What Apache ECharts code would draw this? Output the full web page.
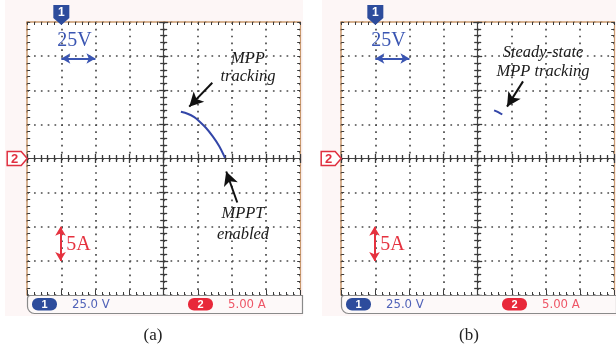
<!DOCTYPE html>
<html><head><meta charset="utf-8">
<script src="https://cdn.jsdelivr.net/npm/echarts@6/dist/echarts.min.js"></script>
<style>html,body{margin:0;padding:0;background:#fff}#c{width:616px;height:354px}</style>
</head><body><div id="c"></div>
<script>
// ---- data (Volts on X, Amps on Y) ----
var xTicks = [-25, 0, 25, 50, 75, 100, 125, 150, 175];
var yTicks = [-20, -15, -10, -5, 0, 5, 10, 15, 20];
var curveA_V = [87.6, 92.5, 97.4, 101.0, 105.9, 110.8, 115.7, 119.9];
var curveA_I = [6.84, 6.55, 6.05, 5.47, 4.50, 3.27, 1.80, 0.10];
var curveB_V = [87.0, 90.0, 93.0];
var curveB_I = [7.05, 6.80, 6.45];
var panelCaptions = ['(a)', '(b)'];
var scaleV = '25.0 V', scaleI = '5.00 A';

var chart = echarts.init(document.getElementById('c'), null, {renderer: 'canvas'});
var G = 273 / 8;
var grids = [{left: 27.2, top: 22, width: 273, height: 273}, {left: 341.2, top: 22, width: 273, height: 273}];
var tan = '#c9996e', tickC = '#3a3a3a';
var xMin = xTicks[0], xMax = xTicks[xTicks.length - 1], yMin = yTicks[0], yMax = yTicks[yTicks.length - 1];
var dot = {color: '#4a4a4a', width: 1.7, type: [1.7, G / 5 - 1.7]};

var xAxes = [], yAxes = [];
grids.forEach(function (g, gi) {
  var base = {gridIndex: gi, type: 'value', min: xMin, max: xMax, interval: 25, axisLabel: {show: false}, splitLine: {show: false}};
  xAxes.push(Object.assign({}, base, {position: 'bottom', axisLine: {show: false, onZero: false},
    axisTick: {inside: true, length: 5, lineStyle: {color: tickC}}, minorTick: {show: true, splitNumber: 5, length: 3, lineStyle: {color: tickC}},
    splitLine: {show: true, lineStyle: dot}}));
  xAxes.push(Object.assign({}, base, {position: 'top', axisLine: {show: true, onZero: false, lineStyle: {color: tan, width: 1.5}},
    axisTick: {inside: true, length: 3, lineStyle: {color: tickC}}, minorTick: {show: true, splitNumber: 5, length: 3, lineStyle: {color: tickC}}}));
  [true, false].forEach(function (ins) {
    xAxes.push(Object.assign({}, base, {position: 'bottom', offset: -g.height / 2, axisLine: {show: ins, onZero: false, lineStyle: {color: '#444', width: 1.2}},
      axisTick: {inside: ins, length: 4.5, lineStyle: {color: tickC, width: 1.3}}, minorTick: {show: true, splitNumber: 5, length: 3.5, lineStyle: {color: tickC, width: 1.3}}}));
  });
  var ybase = {gridIndex: gi, type: 'value', min: yMin, max: yMax, interval: 5, axisLabel: {show: false}, splitLine: {show: false}};
  yAxes.push(Object.assign({}, ybase, {position: 'left', axisLine: {show: true, onZero: false, lineStyle: {color: tan, width: 1.5}},
    axisTick: {inside: true, length: 3, lineStyle: {color: tickC}}, minorTick: {show: true, splitNumber: 5, length: 3, lineStyle: {color: tickC}},
    splitLine: {show: true, lineStyle: dot}}));
  yAxes.push(Object.assign({}, ybase, {position: 'right', axisLine: {show: true, onZero: false, lineStyle: {color: tan, width: 1.2}},
    axisTick: {inside: true, length: 3, lineStyle: {color: tickC}}, minorTick: {show: true, splitNumber: 5, length: 3, lineStyle: {color: tickC}}}));
  [true, false].forEach(function (ins) {
    yAxes.push(Object.assign({}, ybase, {position: 'left', offset: -g.width / 2, axisLine: {show: ins, onZero: false, lineStyle: {color: '#444', width: 1.2}},
      axisTick: {inside: ins, length: 4.5, lineStyle: {color: tickC, width: 1.3}}, minorTick: {show: true, splitNumber: 5, length: 3.5, lineStyle: {color: tickC, width: 1.3}}}));
  });
});

function zip(a, b) { return a.map(function (v, i) { return [v, b[i]]; }); }
function arrow(from, to, color) {
  return [{coord: from, symbol: 'none', lineStyle: {color: color}}, {coord: to, symbol: 'arrow', symbolSize: [11, 14]}];
}
function dbl(from, to, color) {
  return [{coord: from, symbol: 'arrow', symbolSize: [8, 9], lineStyle: {color: color, width: 2}}, {coord: to, symbol: 'arrow', symbolSize: [8, 9]}];
}
function ml(data, color) {
  return {silent: true, animation: false, label: {show: false}, lineStyle: {color: color, width: 2, type: 'solid'}, data: data};
}
var blue = '#3a55b2', red = '#e5323f', curveC = '#3346a8';

var series = [];
grids.forEach(function (g, gi) {
  series.push({type: 'line', xAxisIndex: gi * 4, yAxisIndex: gi * 4, data: [], markLine: ml([dbl([0, 14.65], [25, 14.65], blue)], blue)});
  series.push({type: 'line', xAxisIndex: gi * 4, yAxisIndex: gi * 4, data: [], markLine: ml([dbl([-0.6, -10.0], [-0.6, -15.0], red)], red)});
});
series.push({type: 'line', xAxisIndex: 0, yAxisIndex: 0, data: zip(curveA_V, curveA_I), smooth: 0.3, showSymbol: false,
  lineStyle: {color: curveC, width: 2}, z: 5,
  markLine: ml([arrow([110.6, 11.1], [93.7, 7.6], '#111'), arrow([128.9, -6.45], [120.8, -1.9], '#111')], '#111')});
series.push({type: 'line', xAxisIndex: 4, yAxisIndex: 4, data: zip(curveB_V, curveB_I), smooth: 0.3, showSymbol: false,
  lineStyle: {color: curveC, width: 2}, z: 5,
  markLine: ml([arrow([108.2, 11.3], [96.5, 7.6], '#111')], '#111')});

var graphics = [];
var serif = '"Liberation Serif", "DejaVu Serif", serif';
var narrow = '"Liberation Sans Narrow", "DejaVu Sans Condensed", "Liberation Sans", sans-serif';
[[5, 0, 298, 316], [322, 0, 294, 316]].forEach(function (r) {
  graphics.push({type: 'rect', z: -100, shape: {x: r[0], y: r[1], width: r[2], height: r[3]}, style: {fill: '#fdf6f6'}});
});
grids.forEach(function (g, gi) {
  var dx = g.left - 27.2;
  var x1 = g.left + G; // channel 1 ground
  graphics.push({type: 'rect', z: -50, shape: {x: g.left, y: g.top, width: g.width, height: g.height}, style: {fill: '#ffffff'}});
  graphics.push({type: 'polygon', z: 50, shape: {points: [[x1 - 8, 5], [x1 + 8, 5], [x1 + 8, 18], [x1, 25], [x1 - 8, 18]]}, style: {fill: '#2d4c9c'}});
  graphics.push({type: 'text', z: 51, x: x1, y: 12.5, style: {text: '1', fill: '#fff', font: 'bold 12px "Liberation Sans", sans-serif', align: 'center', verticalAlign: 'middle'}});
  var mx = g.left - 20, my = g.top + g.height / 2;
  graphics.push({type: 'polygon', z: 50, shape: {points: [[mx, my - 7], [mx + 14, my - 7], [mx + 20, my], [mx + 14, my + 7], [mx, my + 7]]}, style: {fill: '#fff', stroke: '#e03040', lineWidth: 1.5}});
  graphics.push({type: 'text', z: 51, x: mx + 7.5, y: my + 0.5, style: {text: '2', fill: '#e03040', font: 'bold 13px "Liberation Sans", sans-serif', align: 'center', verticalAlign: 'middle'}});
  graphics.push({type: 'text', z: 20, x: x1 - 4, y: 41, style: {text: '25V', fill: blue, font: '20px ' + serif, align: 'left', verticalAlign: 'middle'}});
  graphics.push({type: 'text', z: 20, x: x1 + 5, y: 245, style: {text: '5A', fill: red, font: '20px ' + serif, align: 'left', verticalAlign: 'middle'}});
  graphics.push({type: 'rect', z: 10, shape: {x: 27.5 + dx, y: 295.5, width: 275, height: 18, r: [3, 0, 0, 7]}, style: {fill: '#fdf9f9', stroke: '#8a8a8a', lineWidth: 1.2}});
  graphics.push({type: 'rect', z: 11, shape: {x: 32 + dx, y: 298, width: 25, height: 12.5, r: 6}, style: {fill: '#2d4c9c'}});
  graphics.push({type: 'text', z: 12, x: 44.5 + dx, y: 304.5, style: {text: '1', fill: '#fff', font: 'bold 11px "Liberation Sans", sans-serif', align: 'center', verticalAlign: 'middle'}});
  graphics.push({type: 'text', z: 12, x: 72 + dx, y: 305, style: {text: scaleV, fill: '#5062b8', font: '13px ' + narrow, align: 'left', verticalAlign: 'middle'}});
  graphics.push({type: 'rect', z: 11, shape: {x: 188 + dx, y: 298, width: 25, height: 12.5, r: 6}, style: {fill: '#e8283a'}});
  graphics.push({type: 'text', z: 12, x: 200.5 + dx, y: 304.5, style: {text: '2', fill: '#fff', font: 'bold 11px "Liberation Sans", sans-serif', align: 'center', verticalAlign: 'middle'}});
  graphics.push({type: 'text', z: 12, x: 228 + dx, y: 305, style: {text: scaleI, fill: '#ee5566', font: '13px ' + narrow, align: 'left', verticalAlign: 'middle'}});
  graphics.push({type: 'text', x: [153, 469][gi], y: 336, style: {text: panelCaptions[gi], fill: '#222', font: '17px ' + serif, align: 'center', verticalAlign: 'middle'}});
});
var it = 'italic 16.5px ' + serif;
[['MPP', 248, 59], ['tracking', 248, 77], ['MPPT', 243, 214], ['enabled', 243, 235], ['Steady-state', 543, 53], ['MPP tracking', 543, 72]].forEach(function (t) {
  graphics.push({type: 'text', z: 20, x: t[1], y: t[2], style: {text: t[0], fill: '#1a1a1a', font: it, align: 'center', verticalAlign: 'middle'}});
});

chart.setOption({
  animation: false,
  backgroundColor: '#ffffff',
  grid: grids.map(function (g) { return Object.assign({show: false, containLabel: false}, g); }),
  xAxis: xAxes, yAxis: yAxes, series: series, graphic: graphics
});
</script></body></html>
